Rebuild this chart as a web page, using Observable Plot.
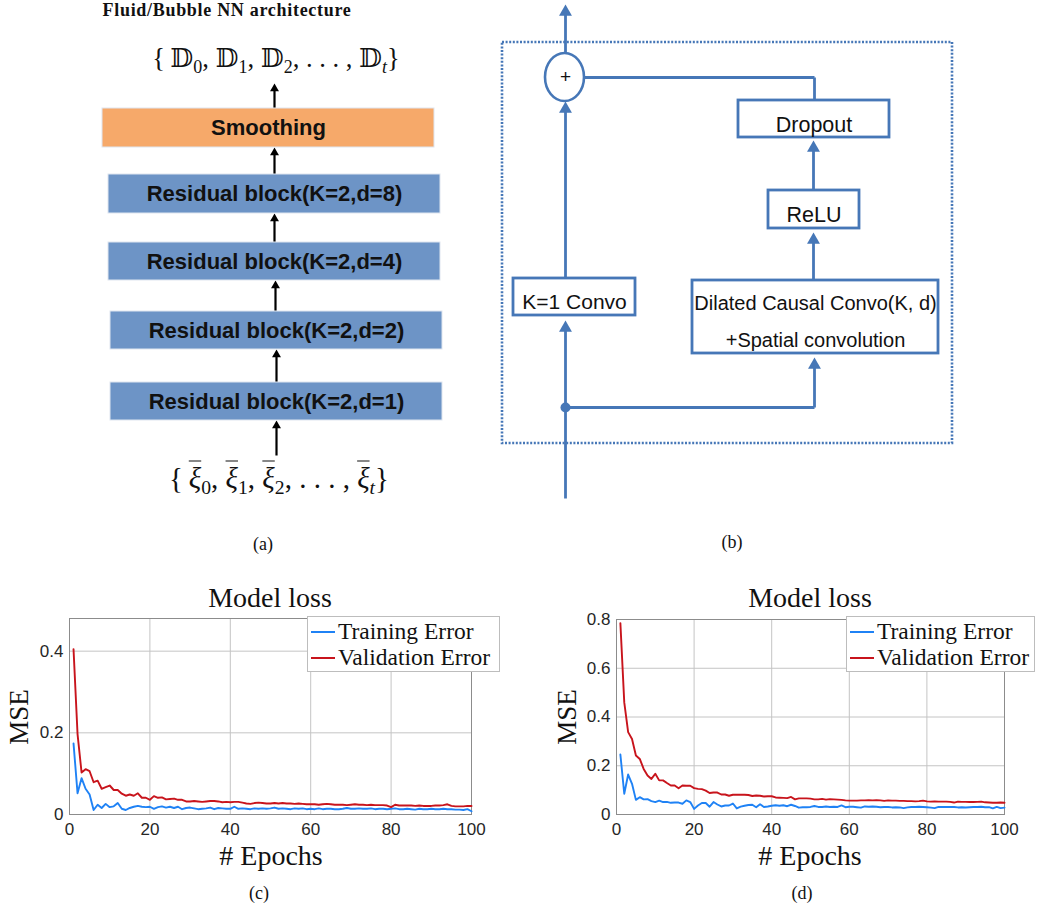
<!DOCTYPE html>
<html><head><meta charset="utf-8">
<script src="https://cdn.jsdelivr.net/npm/d3@7"></script>
<script src="https://cdn.jsdelivr.net/npm/@observablehq/plot@0.6"></script>
<style>
html,body{margin:0;padding:0;background:#fff;}
body{width:1059px;height:911px;position:relative;overflow:hidden;}
.ctr{position:absolute;transform:translate(-50%,-50%);white-space:nowrap;line-height:1;}
.serif{font-family:"Liberation Serif","DejaVu Serif",serif;color:#111;}
.math{font-family:"Liberation Serif","DejaVu Serif","DejaVu Sans","Noto Sans",serif;color:#111;}
.math sub{font-size:0.68em;vertical-align:-0.35em;line-height:0;}
.ov{text-decoration:overline;text-decoration-thickness:1px;}
.legend{position:absolute;background:#fff;border:1px solid #bdbdbd;box-sizing:border-box;}
.legend .ln{position:absolute;height:0;border-top:2px solid;}
.legend .tx{position:absolute;transform:translateY(-50%);white-space:nowrap;line-height:1;font-family:"Liberation Serif","DejaVu Serif",serif;font-size:23.5px;color:#111;}
</style></head><body>
<script>
// ---------------- data ----------------
const seriesNames = ["Training Error", "Validation Error"];
const seriesColors = ["#1f82f5", "#c8141c"];
const xTicks = [0, 20, 40, 60, 80, 100];
const yTicksC = [0, 0.2, 0.4];
const yTicksD = [0, 0.2, 0.4, 0.6, 0.8];

// MSE per epoch (epochs 1..100), panel (c)
const trainC = [0.174,0.052,0.089,0.063,0.049,0.011,0.024,0.016,0.026,0.018,
0.020,0.028,0.014,0.011,0.016,0.019,0.021,0.019,0.018,0.019,
0.014,0.018,0.020,0.017,0.019,0.016,0.019,0.013,0.016,0.017,
0.015,0.013,0.014,0.015,0.017,0.013,0.016,0.015,0.014,0.014,
0.019,0.014,0.015,0.014,0.013,0.015,0.014,0.015,0.014,0.015,
0.017,0.014,0.015,0.014,0.013,0.015,0.014,0.015,0.013,0.014,
0.013,0.015,0.013,0.014,0.014,0.013,0.013,0.014,0.016,0.014,
0.014,0.015,0.014,0.014,0.015,0.013,0.014,0.014,0.013,0.014,
0.015,0.013,0.013,0.014,0.013,0.012,0.014,0.013,0.013,0.014,
0.013,0.013,0.014,0.013,0.013,0.012,0.012,0.011,0.013,0.008];
const valC = [0.405,0.197,0.103,0.111,0.106,0.079,0.083,0.063,0.067,0.071,
0.060,0.060,0.051,0.046,0.049,0.046,0.052,0.041,0.041,0.036,
0.045,0.041,0.042,0.037,0.038,0.039,0.036,0.036,0.032,0.032,
0.033,0.032,0.031,0.032,0.033,0.033,0.032,0.030,0.031,0.030,
0.031,0.031,0.029,0.027,0.026,0.028,0.029,0.028,0.027,0.027,
0.028,0.027,0.028,0.027,0.027,0.026,0.027,0.026,0.025,0.025,
0.025,0.024,0.025,0.026,0.025,0.024,0.024,0.024,0.023,0.024,
0.025,0.024,0.024,0.023,0.024,0.023,0.023,0.023,0.022,0.018,
0.024,0.022,0.022,0.022,0.022,0.021,0.022,0.021,0.021,0.021,
0.022,0.022,0.023,0.025,0.021,0.020,0.020,0.020,0.021,0.021];
// panel (d)
const trainD = [0.246,0.085,0.164,0.126,0.060,0.071,0.062,0.063,0.055,0.051,
0.057,0.051,0.052,0.048,0.049,0.049,0.044,0.058,0.051,0.023,
0.037,0.047,0.047,0.032,0.051,0.041,0.033,0.037,0.037,0.045,
0.025,0.032,0.036,0.039,0.040,0.030,0.042,0.031,0.033,0.036,
0.038,0.036,0.038,0.034,0.040,0.035,0.028,0.030,0.030,0.031,
0.035,0.031,0.031,0.033,0.031,0.032,0.031,0.037,0.030,0.032,
0.032,0.030,0.028,0.033,0.032,0.033,0.032,0.030,0.031,0.031,
0.029,0.030,0.029,0.026,0.029,0.031,0.031,0.032,0.031,0.030,
0.028,0.026,0.031,0.031,0.031,0.031,0.031,0.029,0.030,0.029,
0.030,0.031,0.031,0.032,0.030,0.030,0.025,0.031,0.026,0.028];
const valD = [0.785,0.460,0.338,0.310,0.242,0.228,0.187,0.160,0.146,0.167,
0.140,0.140,0.129,0.119,0.119,0.108,0.119,0.118,0.118,0.108,
0.105,0.104,0.098,0.088,0.090,0.090,0.082,0.082,0.077,0.081,
0.081,0.081,0.081,0.080,0.076,0.078,0.077,0.074,0.075,0.075,
0.070,0.069,0.068,0.067,0.072,0.062,0.066,0.066,0.066,0.065,
0.062,0.062,0.064,0.061,0.063,0.062,0.061,0.060,0.058,0.057,
0.057,0.057,0.058,0.058,0.059,0.058,0.059,0.058,0.056,0.058,
0.057,0.057,0.056,0.056,0.055,0.055,0.054,0.055,0.057,0.054,
0.053,0.054,0.053,0.053,0.053,0.052,0.049,0.053,0.052,0.052,
0.051,0.051,0.052,0.053,0.050,0.049,0.048,0.048,0.049,0.048];

// diagram labels
const blocksA = ["Residual block(K=2,d=1)","Residual block(K=2,d=2)","Residual block(K=2,d=4)","Residual block(K=2,d=8)","Smoothing"];
const boxesB = ["K=1 Convo","Dilated Causal Convo(K, d)\n+Spatial convolution","ReLU","Dropout"];

// ---------------- layout (pixels) ----------------
const blue = "#4677b7";
const layoutA = [
  {x1:110,x2:442,y1:382,y2:420,fill:"#6d94c6"},
  {x1:110,x2:442,y1:311,y2:349,fill:"#6d94c6"},
  {x1:108,x2:440,y1:242,y2:280,fill:"#6d94c6"},
  {x1:108,x2:440,y1:174,y2:213,fill:"#6d94c6"},
  {x1:102,x2:434,y1:108,y2:147,fill:"#f6a96a"}
];
const arrowsA = [
  {x:276,y1:455,y2:420},{x:276,y1:382,y2:349},{x:275,y1:311,y2:280},
  {x:274,y1:242,y2:213},{x:274,y1:174,y2:147},{x:274,y1:108,y2:83}
];
const layoutB = [
  {x1:513,x2:635,y1:278,y2:315,fs:21},
  {x1:692,x2:938,y1:280,y2:353,fs:20},
  {x1:768,x2:859,y1:190,y2:228,fs:21.5},
  {x1:738,x2:889,y1:100,y2:137,fs:21.5}
];
const linksB = [
  {x1:565,y1:498,x2:565,y2:326},{x1:565,y1:278,x2:565,y2:107},{x1:565,y1:53,x2:565,y2:10},
  {x1:584,y1:77,x2:814,y2:77},{x1:814,y1:77,x2:814,y2:100},
  {x1:813,y1:190,x2:813,y2:146},{x1:813,y1:280,x2:813,y2:238},
  {x1:565,y1:407,x2:814,y2:407},{x1:814,y1:407,x2:814,y2:363}
];
const tipsB = [{x:565,y:320},{x:565,y:101},{x:565,y:4},{x:813,y:140},{x:813,y:232},{x:814,y:357}];

function place(el, left, top) {
  el.style.position = "absolute"; el.style.left = left + "px"; el.style.top = top + "px";
  document.body.appendChild(el);
}
function label(html, cls, x, y, size, extra) {
  const d = document.createElement("div");
  d.className = "ctr " + cls;
  d.innerHTML = html;
  d.style.left = x + "px"; d.style.top = y + "px"; d.style.fontSize = size + "px";
  if (extra) Object.assign(d.style, extra);
  document.body.appendChild(d);
  return d;
}

// ---------------- diagrams (a) and (b) ----------------
const rA = 3.3, rB = 4.8;
const diag = Plot.plot({
  width: 1059, height: 560, margin: 0,
  x: {domain: [0, 1059], range: [0, 1059], axis: null},
  y: {domain: [0, 560], range: [0, 560], axis: null},
  style: {background: "transparent"},
  marks: [
    // (a)
    Plot.link(arrowsA, {x1: "x", x2: "x", y1: "y1", y2: d => d.y2 + 5, stroke: "#000", strokeWidth: 2.2}),
    Plot.dot(arrowsA, {x: "x", y: "y2", symbol: "triangle", r: rA, fill: "#000", dy: 1.555 * rA}),
    Plot.rect(layoutA, {x1: "x1", x2: "x2", y1: "y1", y2: "y2", fill: "fill", stroke: "#dfe6f0", strokeWidth: 1}),
    Plot.text(blocksA, {x: (d, i) => (layoutA[i].x1 + layoutA[i].x2) / 2, y: (d, i) => (layoutA[i].y1 + layoutA[i].y2) / 2,
      text: d => d, fontFamily: "Liberation Sans, Arial, sans-serif", fontWeight: "bold", fontSize: 22, fill: "#111", lineAnchor: "middle"}),
    // (b)
    Plot.rect([{x1: 502, x2: 952, y1: 42, y2: 443}], {x1: "x1", x2: "x2", y1: "y1", y2: "y2", fill: "none", stroke: blue, strokeWidth: 2.6, strokeDasharray: "2,1.6"}),
    Plot.link(linksB, {x1: "x1", x2: "x2", y1: "y1", y2: "y2", stroke: blue, strokeWidth: 2.8}),
    Plot.dot(tipsB, {x: "x", y: "y", symbol: "triangle", r: rB, fill: blue, dy: 1.555 * rB}),
    Plot.dot([{x: 565, y: 407}], {x: "x", y: "y", r: 5, fill: blue}),
    Plot.rect([{x1: 545, x2: 584, y1: 53, y2: 101}], {x1: "x1", x2: "x2", y1: "y1", y2: "y2", rx: 19.5, ry: 24, fill: "#fff", stroke: blue, strokeWidth: 2.6}),
    Plot.text(["+"], {x: 565, y: 76, text: d => d, fontFamily: "Liberation Sans, Arial, sans-serif", fontSize: 19, fill: "#111", lineAnchor: "middle"}),
    Plot.rect(layoutB, {x1: "x1", x2: "x2", y1: "y1", y2: "y2", fill: "#fff", stroke: blue, strokeWidth: 2.8}),
    Plot.text(boxesB, {x: (d, i) => (layoutB[i].x1 + layoutB[i].x2) / 2, y: (d, i) => (layoutB[i].y1 + layoutB[i].y2) / 2,
      text: d => d, fontFamily: "Liberation Sans, Arial, sans-serif", fontSize: (d, i) => layoutB[i].fs, fill: "#111", lineAnchor: "middle", lineHeight: 1.85})
  ]
});
place(diag, 0, 0);

label("Fluid/Bubble NN architecture", "serif", 227, 10, 18, {fontWeight: "bold", letterSpacing: "0.7px"});
label("{&thinsp;𝔻<sub>0</sub>, 𝔻<sub>1</sub>, 𝔻<sub>2</sub>, . . . , 𝔻<sub><i>t</i></sub>}", "math", 276, 58, 26.5);
label("{&thinsp;<i class='ov'>ξ</i><sub>0</sub>, <i class='ov'>ξ</i><sub>1</sub>, <i class='ov'>ξ</i><sub>2</sub>, . . . , <i class='ov'>ξ</i><sub><i>t</i></sub>}", "math", 279, 478, 29);
label("(a)", "serif", 263, 544, 18);
label("(b)", "serif", 732, 542, 18);

// ---------------- loss charts ----------------
function lossChart(train, val, ymax, yTicks, w, ml, mr, mt, mb) {
  const rows = [];
  train.forEach((v, i) => rows.push({epoch: i + 1, mse: v, s: seriesNames[0]}));
  val.forEach((v, i) => rows.push({epoch: i + 1, mse: v, s: seriesNames[1]}));
  return Plot.plot({
    width: w, height: 290, marginLeft: ml, marginRight: mr, marginTop: mt, marginBottom: mb,
    x: {domain: [0, 100]},
    y: {domain: [0, ymax]},
    color: {domain: seriesNames, range: seriesColors},
    style: {fontFamily: "Liberation Sans, Arial, sans-serif", fontSize: "17px", color: "#262626", background: "transparent"},
    marks: [
      Plot.gridX({ticks: xTicks.slice(1, -1), stroke: "#c4c4c4", strokeOpacity: 1, strokeWidth: 1}),
      Plot.gridY({ticks: yTicks.slice(1).filter(t => t < ymax - 1e-9), stroke: "#c4c4c4", strokeOpacity: 1, strokeWidth: 1}),
      Plot.frame({stroke: "#8c8c8c", strokeWidth: 1}),
      Plot.axisX({ticks: xTicks, tickSize: 0, tickPadding: 8, label: null, tickFormat: d => String(d)}),
      Plot.axisY({ticks: yTicks, tickSize: 0, tickPadding: 6, label: null, tickFormat: d => d === 0 ? "0" : d.toFixed(1)}),
      Plot.lineY(rows, {x: "epoch", y: "mse", z: "s", stroke: "s", strokeWidth: 1.9})
    ]
  });
}
place(lossChart(trainC, valC, 0.48, yTicksC, 520, 69, 49, 48, 46), 0, 570);
place(lossChart(trainD, valD, 0.8, yTicksD, 539, 96, 55, 49, 46), 520, 570);

function legend(left, top, w) {
  const box = document.createElement("div");
  box.className = "legend";
  box.style.left = left + "px"; box.style.top = top + "px"; box.style.width = w + "px"; box.style.height = "56px";
  seriesNames.forEach((n, i) => {
    const ln = document.createElement("div");
    ln.className = "ln"; ln.style.left = "3px"; ln.style.width = "24px"; ln.style.top = (14 + i * 26) + "px";
    ln.style.borderTopColor = seriesColors[i];
    const tx = document.createElement("div");
    tx.className = "tx"; tx.style.left = "30px"; tx.style.top = (15 + i * 26) + "px"; tx.textContent = n;
    box.appendChild(ln); box.appendChild(tx);
  });
  document.body.appendChild(box);
}
legend(307, 616, 193);
legend(846, 616, 189);

label("Model loss", "serif", 270, 598, 28);
label("Model loss", "serif", 810, 598, 28);
label("# Epochs", "serif", 271, 856, 28);
label("# Epochs", "serif", 810, 856, 28);
label("MSE", "serif", 19, 717, 27, {transform: "translate(-50%,-50%) rotate(-90deg)"});
label("MSE", "serif", 567, 717, 27, {transform: "translate(-50%,-50%) rotate(-90deg)"});
label("(c)", "serif", 259, 893, 18);
label("(d)", "serif", 802, 893, 18);
</script>
</body></html>
